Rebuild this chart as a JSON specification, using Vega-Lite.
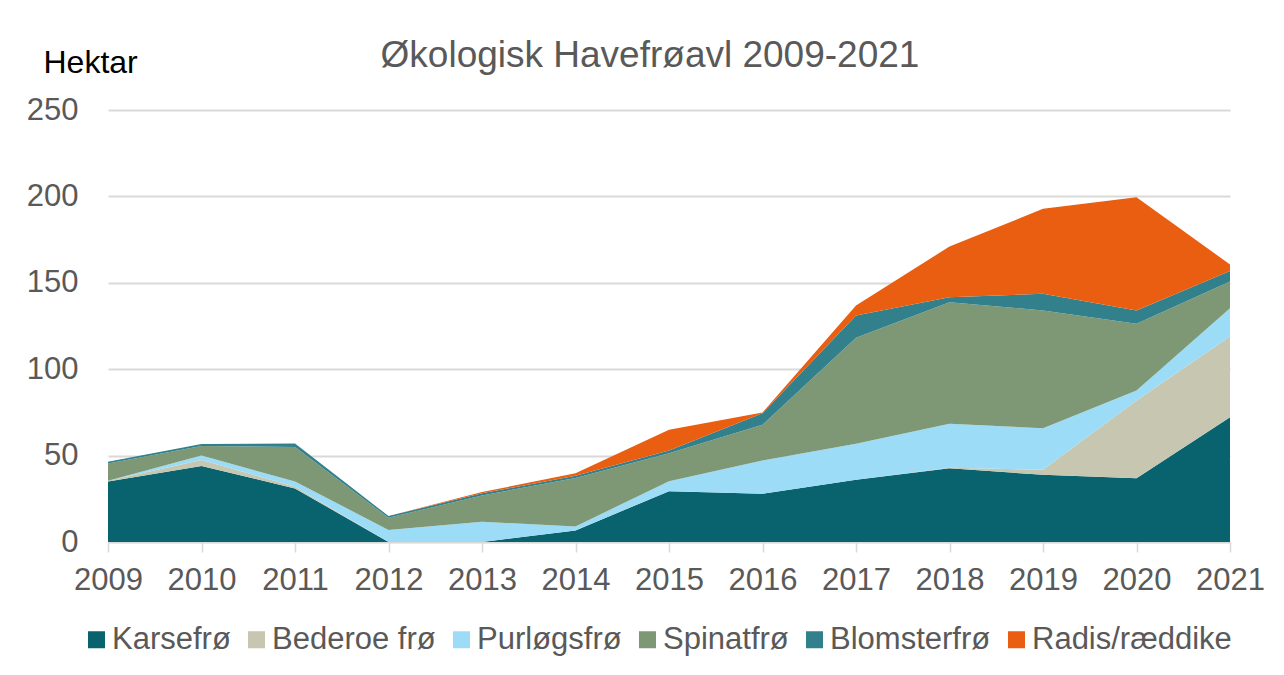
{
  "$schema": "https://vega.github.io/schema/vega-lite/v6.json",
  "width": 1122,
  "height": 432,
  "autosize": {"type": "none"},
  "padding": {"left": 108, "top": 110, "right": 54, "bottom": 133},
  "background": "white",
  "config": {"font": "Liberation Sans", "view": {"stroke": null}},
  "title": {
    "text": "Økologisk Havefrøavl 2009-2021",
    "fontSize": 37,
    "font": "Liberation Sans",
    "fontWeight": "normal",
    "color": "#595959",
    "anchor": "middle",
    "frame": "group",
    "dx": -19,
    "baseline": "alphabetic",
    "offset": -58
  },
  "data": {
    "values": [
      {"year": 2009, "crop": "Karsefrø", "ha": 35},
      {"year": 2009, "crop": "Bederoe frø", "ha": 0.5},
      {"year": 2009, "crop": "Purløgsfrø", "ha": 0},
      {"year": 2009, "crop": "Spinatfrø", "ha": 10},
      {"year": 2009, "crop": "Blomsterfrø", "ha": 1},
      {"year": 2009, "crop": "Radis/ræddike", "ha": 0},
      {"year": 2010, "crop": "Karsefrø", "ha": 44},
      {"year": 2010, "crop": "Bederoe frø", "ha": 3.5},
      {"year": 2010, "crop": "Purløgsfrø", "ha": 2.5},
      {"year": 2010, "crop": "Spinatfrø", "ha": 5.5},
      {"year": 2010, "crop": "Blomsterfrø", "ha": 1.2},
      {"year": 2010, "crop": "Radis/ræddike", "ha": 0},
      {"year": 2011, "crop": "Karsefrø", "ha": 31},
      {"year": 2011, "crop": "Bederoe frø", "ha": 1},
      {"year": 2011, "crop": "Purløgsfrø", "ha": 3},
      {"year": 2011, "crop": "Spinatfrø", "ha": 20},
      {"year": 2011, "crop": "Blomsterfrø", "ha": 2},
      {"year": 2011, "crop": "Radis/ræddike", "ha": 0},
      {"year": 2012, "crop": "Karsefrø", "ha": 0},
      {"year": 2012, "crop": "Bederoe frø", "ha": 0},
      {"year": 2012, "crop": "Purløgsfrø", "ha": 7},
      {"year": 2012, "crop": "Spinatfrø", "ha": 7},
      {"year": 2012, "crop": "Blomsterfrø", "ha": 1},
      {"year": 2012, "crop": "Radis/ræddike", "ha": 0},
      {"year": 2013, "crop": "Karsefrø", "ha": 0},
      {"year": 2013, "crop": "Bederoe frø", "ha": 0},
      {"year": 2013, "crop": "Purløgsfrø", "ha": 11.7},
      {"year": 2013, "crop": "Spinatfrø", "ha": 15.2},
      {"year": 2013, "crop": "Blomsterfrø", "ha": 1.3},
      {"year": 2013, "crop": "Radis/ræddike", "ha": 0.7},
      {"year": 2014, "crop": "Karsefrø", "ha": 6.7},
      {"year": 2014, "crop": "Bederoe frø", "ha": 0},
      {"year": 2014, "crop": "Purløgsfrø", "ha": 2.3},
      {"year": 2014, "crop": "Spinatfrø", "ha": 28.1},
      {"year": 2014, "crop": "Blomsterfrø", "ha": 1.2},
      {"year": 2014, "crop": "Radis/ræddike", "ha": 1.5},
      {"year": 2015, "crop": "Karsefrø", "ha": 29.4},
      {"year": 2015, "crop": "Bederoe frø", "ha": 0},
      {"year": 2015, "crop": "Purløgsfrø", "ha": 5.8},
      {"year": 2015, "crop": "Spinatfrø", "ha": 16.2},
      {"year": 2015, "crop": "Blomsterfrø", "ha": 1.6},
      {"year": 2015, "crop": "Radis/ræddike", "ha": 11.9},
      {"year": 2016, "crop": "Karsefrø", "ha": 27.9},
      {"year": 2016, "crop": "Bederoe frø", "ha": 0},
      {"year": 2016, "crop": "Purløgsfrø", "ha": 19.3},
      {"year": 2016, "crop": "Spinatfrø", "ha": 20.6},
      {"year": 2016, "crop": "Blomsterfrø", "ha": 6.7},
      {"year": 2016, "crop": "Radis/ræddike", "ha": 0.4},
      {"year": 2017, "crop": "Karsefrø", "ha": 36},
      {"year": 2017, "crop": "Bederoe frø", "ha": 0},
      {"year": 2017, "crop": "Purløgsfrø", "ha": 20.8},
      {"year": 2017, "crop": "Spinatfrø", "ha": 61.4},
      {"year": 2017, "crop": "Blomsterfrø", "ha": 12.9},
      {"year": 2017, "crop": "Radis/ræddike", "ha": 5.8},
      {"year": 2018, "crop": "Karsefrø", "ha": 42.7},
      {"year": 2018, "crop": "Bederoe frø", "ha": 0.3},
      {"year": 2018, "crop": "Purløgsfrø", "ha": 25.4},
      {"year": 2018, "crop": "Spinatfrø", "ha": 70.4},
      {"year": 2018, "crop": "Blomsterfrø", "ha": 2.9},
      {"year": 2018, "crop": "Radis/ræddike", "ha": 29.3},
      {"year": 2019, "crop": "Karsefrø", "ha": 38.9},
      {"year": 2019, "crop": "Bederoe frø", "ha": 2.9},
      {"year": 2019, "crop": "Purløgsfrø", "ha": 24.1},
      {"year": 2019, "crop": "Spinatfrø", "ha": 68.1},
      {"year": 2019, "crop": "Blomsterfrø", "ha": 9.6},
      {"year": 2019, "crop": "Radis/ræddike", "ha": 49.2},
      {"year": 2020, "crop": "Karsefrø", "ha": 36.9},
      {"year": 2020, "crop": "Bederoe frø", "ha": 45},
      {"year": 2020, "crop": "Purløgsfrø", "ha": 5.8},
      {"year": 2020, "crop": "Spinatfrø", "ha": 38.6},
      {"year": 2020, "crop": "Blomsterfrø", "ha": 7.7},
      {"year": 2020, "crop": "Radis/ræddike", "ha": 65.5},
      {"year": 2021, "crop": "Karsefrø", "ha": 72.2},
      {"year": 2021, "crop": "Bederoe frø", "ha": 46.7},
      {"year": 2021, "crop": "Purløgsfrø", "ha": 16.4},
      {"year": 2021, "crop": "Spinatfrø", "ha": 15.5},
      {"year": 2021, "crop": "Blomsterfrø", "ha": 6.1},
      {"year": 2021, "crop": "Radis/ræddike", "ha": 3.7}
    ]
  },
  "transform": [
    {"calculate": "indexof(['Karsefrø', 'Bederoe frø', 'Purløgsfrø', 'Spinatfrø', 'Blomsterfrø', 'Radis/ræddike'], datum.crop)", "as": "stackOrder"}
  ],
  "mark": {"type": "area", "opacity": 1, "line": false},
  "encoding": {
    "x": {
      "field": "year",
      "type": "quantitative",
      "scale": {"domain": [2009, 2021], "nice": false, "zero": false},
      "axis": {
        "title": null,
        "values": [2009, 2010, 2011, 2012, 2013, 2014, 2015, 2016, 2017, 2018, 2019, 2020, 2021],
        "format": "d",
        "grid": false,
        "domainColor": "#d9d9d9",
        "domainWidth": 1.5,
        "tickColor": "#d9d9d9",
        "tickWidth": 1.5,
        "tickSize": 10,
        "labelFontSize": 31,
        "labelColor": "#595959",
        "labelPadding": 13,
        "labelFlush": false,
        "labelOverlap": false
      }
    },
    "y": {
      "field": "ha",
      "type": "quantitative",
      "stack": "zero",
      "scale": {"domain": [0, 250], "nice": false},
      "axis": {
        "values": [0, 50, 100, 150, 200, 250],
        "grid": true,
        "gridColor": "#d9d9d9",
        "gridWidth": 2,
        "domain": false,
        "ticks": false,
        "labelFontSize": 31,
        "labelColor": "#595959",
        "labelPadding": 30,
        "title": "Hektar",
        "titleAngle": 0,
        "titleFontSize": 32,
        "titleFontWeight": "normal",
        "titleColor": "#000000",
        "titleX": -65,
        "titleY": -38,
        "titleAlign": "left",
        "titleBaseline": "alphabetic"
      }
    },
    "order": {"field": "stackOrder", "type": "quantitative", "sort": "ascending"},
    "color": {
      "field": "crop",
      "type": "nominal",
      "sort": ["Karsefrø", "Bederoe frø", "Purløgsfrø", "Spinatfrø", "Blomsterfrø", "Radis/ræddike"],
      "scale": {
        "domain": ["Karsefrø", "Bederoe frø", "Purløgsfrø", "Spinatfrø", "Blomsterfrø", "Radis/ræddike"],
        "range": ["#08636e", "#c7c6b0", "#9ddcf6", "#7e9876", "#31808c", "#e95e10"]
      },
      "legend": {
        "title": null,
        "orient": "none",
        "legendX": -27,
        "legendY": 514,
        "direction": "horizontal",
        "columns": 6,
        "symbolType": "square",
        "symbolSize": 289,
        "symbolStrokeWidth": 0,
        "symbolOpacity": 1,
        "labelFontSize": 31,
        "labelColor": "#595959",
        "labelOffset": 0,
        "columnPadding": 10,
        "labelLimit": 400
      }
    }
  }
}
